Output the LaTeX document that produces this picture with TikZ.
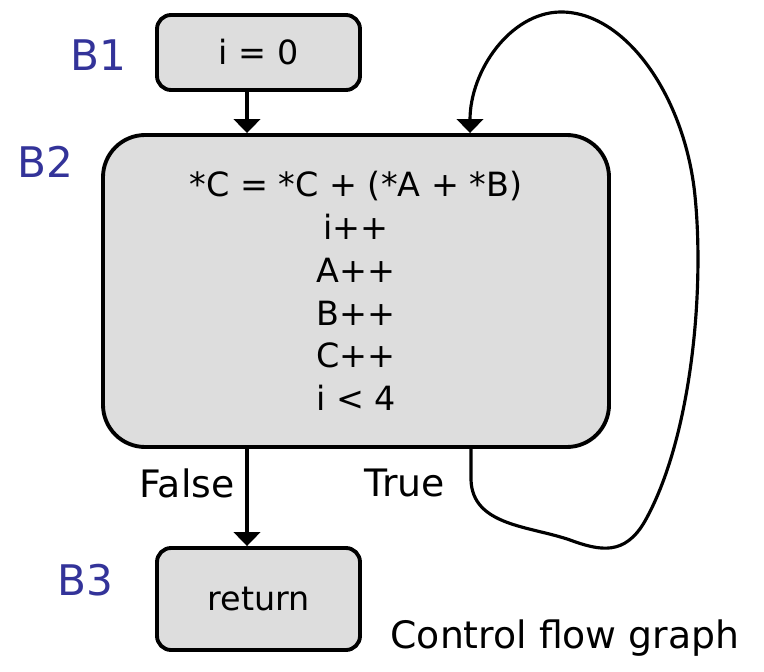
\documentclass[tikz,border=0pt]{standalone}
\usepackage{fontspec}
\setmainfont{DejaVu Sans}
\usetikzlibrary{arrows.meta}
\definecolor{blockgray}{RGB}{221,221,221}
\definecolor{tagblue}{RGB}{51,51,153}
\begin{document}
\begin{tikzpicture}[block/.style={fill=blockgray,draw=black,line width=2.2pt,rounded corners=8pt,align=center,font=\fontsize{19}{24.4}\selectfont},
    tag/.style={text=tagblue,font=\fontsize{24}{28}\selectfont},
    edge/.style={line width=2.2pt,-{Triangle[length=8pt,width=15pt]}},
    note/.style={font=\fontsize{21.5}{25}\selectfont}]
    \useasboundingbox (0,0) rectangle (15.28,13.42);
    % basic blocks
    \node[block,minimum width=4.06cm,minimum height=1.5cm] (b1) at (5.17,12.37) {i = 0};
    \node[block,minimum width=10.12cm,minimum height=6.24cm,rounded corners=24pt] (b2) at (7.12,7.6)
        {*C = *C + (*A + *B)\\ i++\\ A++\\ B++\\ C++\\ i < 4};
    \node[block,minimum width=4.06cm,minimum height=2.04cm] (b3) at (5.17,1.44) {return};
    \node[tag] (t1) at (1.96,12.32) {B1};
    \node[tag] (t2) at (0.9,10.18) {B2};
    \node[tag] (t3) at (1.7,1.82) {B3};
    % edges
    \draw[edge] ([xshift=-0.23cm]b1.south) -- ([xshift=-0.23cm]b1.south |- b2.north);
    \draw[edge] ([xshift=-0.23cm]b3.north |- b2.south) -- ([xshift=-0.23cm]b3.north);
    \draw[edge,line width=1.8pt] ([xshift=2.3cm]b2.south) -- (9.42,3.82)
        .. controls (9.45,2.9) and (10.6,2.9) .. (11.4,2.62)
        .. controls (12.0,2.4) and (12.5,2.3) .. (12.9,3.0)
        .. controls (13.8,4.6) and (14.1,7.5) .. (13.9,9.5)
        .. controls (13.7,11.5) and (12.5,13.2) .. (11.2,13.18)
        .. controls (10.2,13.16) and (9.4,12.0) .. ([xshift=2.28cm]b2.north);
    \node[note] (f) at (3.74,3.76) {False};
    \node[note] (t) at (8.1,3.76) {True};
    \node[note] (cap) at (11.3,0.66) {Control flow graph};
\end{tikzpicture}
\end{document}
